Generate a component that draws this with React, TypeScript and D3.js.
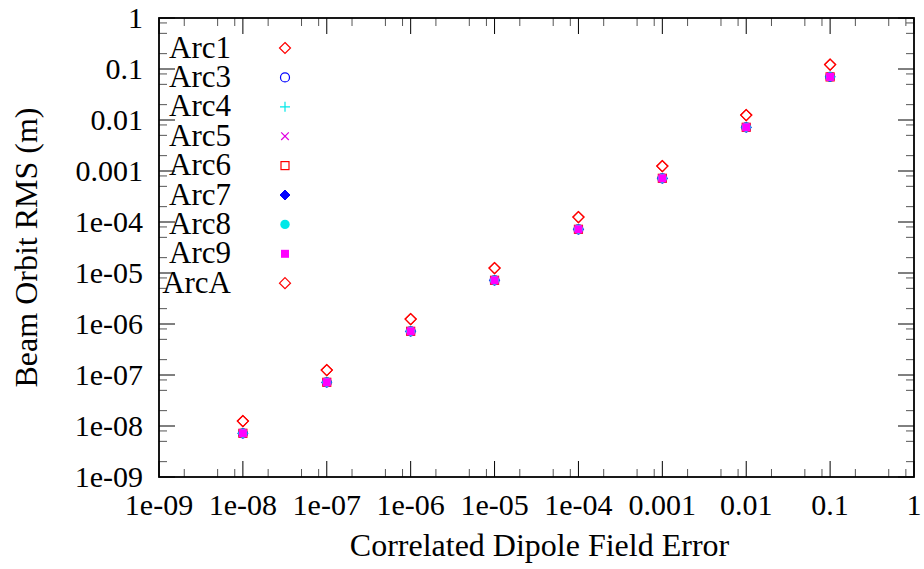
import React from 'react';
import * as d3 from 'd3';

// field error values (x)
const fieldErrors = [1e-8, 1e-7, 1e-6, 1e-5, 1e-4, 1e-3, 1e-2, 1e-1];

// beam orbit RMS per arc (m)
const arc1 = [1.25e-8, 1.25e-7, 1.25e-6, 1.25e-5, 1.25e-4, 1.25e-3, 1.25e-2, 0.122];
const arc3 = [7.2e-9, 7.2e-8, 7.2e-7, 7.2e-6, 7.2e-5, 7.2e-4, 7.2e-3, 0.070];
const arc4 = [7.2e-9, 7.2e-8, 7.2e-7, 7.2e-6, 7.2e-5, 7.2e-4, 7.2e-3, 0.070];
const arc5 = [7.2e-9, 7.2e-8, 7.2e-7, 7.2e-6, 7.2e-5, 7.2e-4, 7.2e-3, 0.070];
const arc6 = [7.2e-9, 7.2e-8, 7.2e-7, 7.2e-6, 7.2e-5, 7.2e-4, 7.2e-3, 0.070];
const arc7 = [7.2e-9, 7.2e-8, 7.2e-7, 7.2e-6, 7.2e-5, 7.2e-4, 7.2e-3, 0.070];
const arc8 = [7.2e-9, 7.2e-8, 7.2e-7, 7.2e-6, 7.2e-5, 7.2e-4, 7.2e-3, 0.070];
const arc9 = [7.2e-9, 7.2e-8, 7.2e-7, 7.2e-6, 7.2e-5, 7.2e-4, 7.2e-3, 0.070];
const arcA = [1.25e-8, 1.25e-7, 1.25e-6, 1.25e-5, 1.25e-4, 1.25e-3, 1.25e-2, 0.122];

const seriesNames = ['Arc1', 'Arc3', 'Arc4', 'Arc5', 'Arc6', 'Arc7', 'Arc8', 'Arc9', 'ArcA'];
const seriesValues = [arc1, arc3, arc4, arc5, arc6, arc7, arc8, arc9, arcA];
const seriesColors = ['#ff0000', '#0000ff', '#00e8e8', '#e000e0', '#ff0000', '#0000ff', '#00e8e8', '#ff00ff', '#ff0000'];
const seriesShapes = ['diamond', 'circle', 'plus', 'cross', 'square', 'diamondFill', 'circleFill', 'squareFill', 'diamond'];

const xTickLabels = ['1e-09', '1e-08', '1e-07', '1e-06', '1e-05', '1e-04', '0.001', '0.01', '0.1', '1'];
const yTickLabels = ['1e-09', '1e-08', '1e-07', '1e-06', '1e-05', '1e-04', '0.001', '0.01', '0.1', '1'];

const W = 924;
const H = 569;
const margin = { left: 159, right: 10, top: 18, bottom: 92 };
const FONT = '"Liberation Serif", "Times New Roman", serif';

const Marker = ({ shape, color, cx, cy }: { shape: string; color: string; cx: number; cy: number }) => {
  const s = 5;
  switch (shape) {
    case 'diamond':
      return <path d={`M${cx},${cy - s - 0.5}L${cx + s + 0.5},${cy}L${cx},${cy + s + 0.5}L${cx - s - 0.5},${cy}Z`} fill="none" stroke={color} strokeWidth={1.2} />;
    case 'diamondFill':
      return <path d={`M${cx},${cy - s}L${cx + s},${cy}L${cx},${cy + s}L${cx - s},${cy}Z`} fill={color} stroke={color} strokeWidth={1} />;
    case 'circle':
      return <circle cx={cx} cy={cy} r={4.5} fill="none" stroke={color} strokeWidth={1.2} />;
    case 'circleFill':
      return <circle cx={cx} cy={cy} r={4.7} fill={color} />;
    case 'plus':
      return <path d={`M${cx - s},${cy}H${cx + s}M${cx},${cy - s}V${cy + s}`} stroke={color} strokeWidth={1.2} />;
    case 'cross':
      return <path d={`M${cx - 3.8},${cy - 3.8}L${cx + 3.8},${cy + 3.8}M${cx - 3.8},${cy + 3.8}L${cx + 3.8},${cy - 3.8}`} stroke={color} strokeWidth={1.2} />;
    case 'square':
      return <rect x={cx - 4} y={cy - 4} width={8} height={8} fill="none" stroke={color} strokeWidth={1.2} />;
    case 'squareFill':
      return <rect x={cx - 4} y={cy - 4} width={8} height={8} fill={color} />;
    default:
      return null;
  }
};

export default function App() {
  const x = d3.scaleLog().domain([1e-9, 1]).range([margin.left, W - margin.right]);
  const y = d3.scaleLog().domain([1e-9, 1]).range([H - margin.bottom, margin.top]);
  const [x0, x1] = x.range();
  const [y0, y1] = y.range();

  const decades = d3.range(-9, 1).map(e => Math.pow(10, e));
  const minors: number[] = [];
  decades.slice(0, -1).forEach(d => [2, 5, 8].forEach(m => minors.push(d * m)));

  return (
    <svg width={W} height={H} style={{ position: 'absolute', left: 0, top: 0, background: '#fff' }} fontFamily={FONT}>
      <rect width={W} height={H} fill="#fff" />
      {/* ticks, mirrored on all four sides */}
      <g stroke="#000" strokeWidth={1}>
        {decades.map((d, i) => (
          <g key={'mx' + i}>
            <line x1={x(d)} x2={x(d)} y1={y0} y2={y0 - 16} />
            <line x1={x(d)} x2={x(d)} y1={y1} y2={y1 + 16} />
            <line y1={y(d)} y2={y(d)} x1={x0} x2={x0 + 16} />
            <line y1={y(d)} y2={y(d)} x1={x1} x2={x1 - 16} />
          </g>
        ))}
        {minors.map((d, i) => (
          <g key={'mn' + i} stroke="#555">
            <line x1={x(d)} x2={x(d)} y1={y0} y2={y0 - 8} />
            <line x1={x(d)} x2={x(d)} y1={y1} y2={y1 + 8} />
            <line y1={y(d)} y2={y(d)} x1={x0} x2={x0 + 8} />
            <line y1={y(d)} y2={y(d)} x1={x1} x2={x1 - 8} />
          </g>
        ))}
      </g>
      <rect x={x0} y={y1} width={x1 - x0} height={y0 - y1} fill="none" stroke="#000" strokeWidth={1.8} />

      {/* tick labels */}
      <g fontSize={30} fill="#000">
        {decades.map((d, i) => (
          <text key={'xl' + i} x={x(d)} y={y0 + 38} textAnchor="middle">{xTickLabels[i]}</text>
        ))}
        {decades.map((d, i) => (
          <text key={'yl' + i} x={x0 - 16} y={y(d) + 10} textAnchor="end">{yTickLabels[i]}</text>
        ))}
      </g>

      {/* axis titles */}
      <text x={(x0 + x1) / 2 + 3} y={556} textAnchor="middle" fontSize={32}>Correlated Dipole Field Error</text>
      <text transform={`translate(37,${(y0 + y1) / 2}) rotate(-90)`} textAnchor="middle" fontSize={32}>Beam Orbit RMS (m)</text>

      {/* data */}
      {seriesValues.map((vals, si) => (
        <g key={'s' + si}>
          {vals.map((v, i) => (
            <Marker key={i} shape={seriesShapes[si]} color={seriesColors[si]} cx={x(fieldErrors[i])} cy={y(v)} />
          ))}
        </g>
      ))}

      {/* legend */}
      {seriesNames.map((name, i) => {
        const cy = 48 + i * 29.4;
        return (
          <g key={'lg' + i}>
            <text x={231} y={cy + 9.5} textAnchor="end" fontSize={31}>{name}</text>
            <Marker shape={seriesShapes[i]} color={seriesColors[i]} cx={285} cy={cy} />
          </g>
        );
      })}
    </svg>
  );
}
